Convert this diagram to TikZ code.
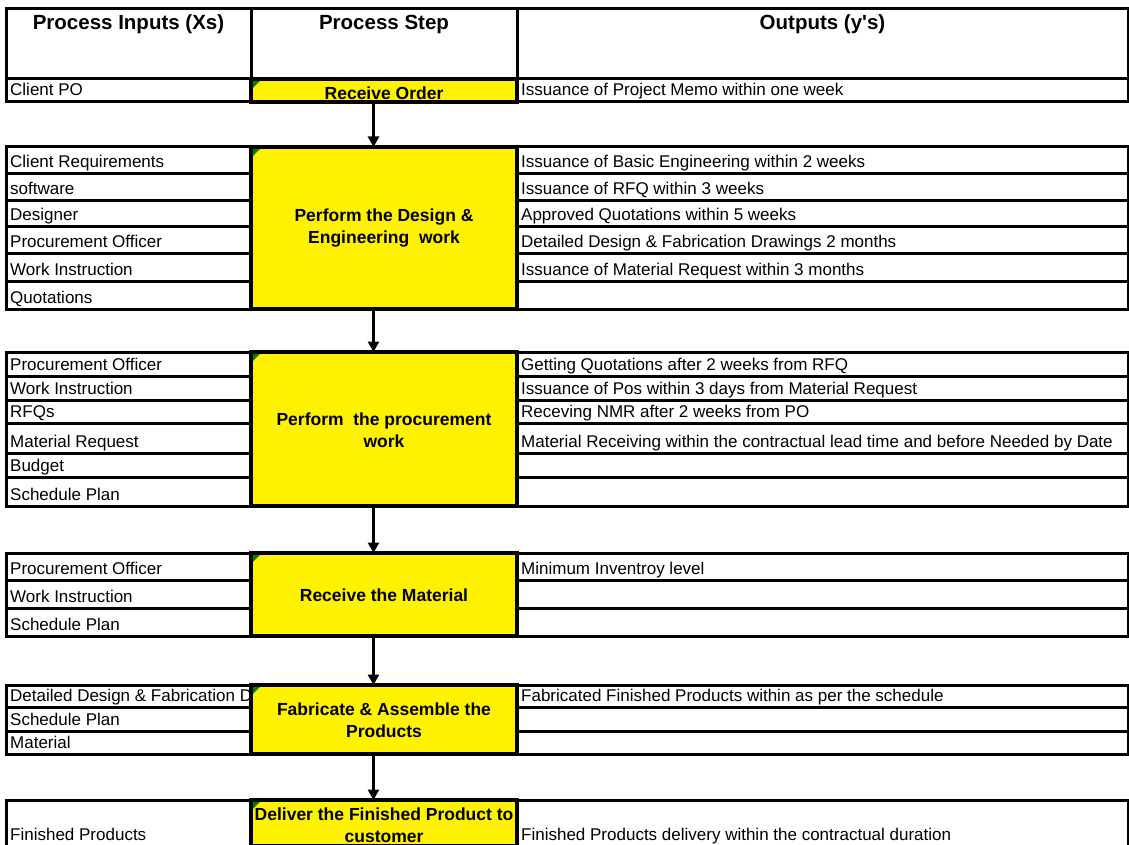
\documentclass[tikz,border=0pt]{standalone}
\usepackage{fontspec}
\setmainfont{Liberation Sans}[Ligatures=TeXOff]
\usetikzlibrary{arrows.meta}

\tikzset{
  grid/.style={draw=black, line width=3pt, inner sep=0pt, outer sep=0pt,
    anchor=north west, fill=white},
  hdtext/.style={font=\fontsize{20.5}{24}\selectfont\bfseries, inner sep=0pt, anchor=base},
  celltext/.style={font=\fontsize{17}{20}\selectfont, inner sep=0pt, anchor=base west},
  stepbox/.style={draw=black, line width=3.8pt, fill=yellow, inner sep=0pt, outer sep=0pt,
    anchor=north west, minimum width=266pt},
  steptext/.style={font=\fontsize{17.5}{22}\selectfont\bfseries, align=center, inner sep=0pt},
  flow/.style={line width=3pt, -{Triangle[width=11pt,length=10.5pt]}},
  flag/.style={fill=green!50!black, draw=none},
}

% input cell: name, top, bottom, text
\newcommand\xrow[4]{%
  \node[grid, minimum width=245pt, minimum height={(#3-#2)*1pt}] (#1) at (6,#2) {};
  \if\relax\detokenize{#4}\relax\else
    \node[celltext] (#1t) at ([shift={(4,-6)}]#1.south west) {#4};
  \fi}
% output cell: name, top, bottom, text
\newcommand\yrow[4]{%
  \node[grid, minimum width=611pt, minimum height={(#3-#2)*1pt}] (#1) at (517,#2) {};
  \if\relax\detokenize{#4}\relax\else
    \node[celltext] (#1t) at ([shift={(4,-6)}]#1.south west) {#4};
  \fi}
% process step cell: name, top, bottom, text, vertical text offset
\newcommand\stepcell[5]{%
  \node[stepbox, minimum height={(#3-#2)*1pt}] (#1) at (251,#2) {};
  \fill[flag] ([shift={(1.9,1.9)}]#1.north west) -- ++(7,0) -- ++(-7,7) -- cycle;
  \node[steptext] (#1t) at ([yshift=#5]#1.center) {#4};}

\begin{document}
\begin{tikzpicture}[x=1pt, y=-1pt]
\clip (0,0) rectangle (1129,845);
\fill[white] (0,0) rectangle (1129,845);

% header row
\node[grid, minimum width=245pt, minimum height=70pt] (h1) at (6,9) {};
\node[grid, minimum width=266pt, minimum height=70pt] (h2) at (251,9) {};
\node[grid, minimum width=611pt, minimum height=70pt] (h3) at (517,9) {};
\node[hdtext] (h1t) at ([yshift=-21pt]h1.north) {Process Inputs (Xs)};
\node[hdtext] (h2t) at ([yshift=-21pt]h2.north) {Process Step};
\node[hdtext] (h3t) at ([yshift=-21pt]h3.north) {Outputs (y's)};

% block 1
\xrow{a11}{79}{102}{Client PO}
\yrow{b11}{79}{102}{Issuance of Project Memo within one week}

% block 2
\xrow{a21}{147}{174}{Client Requirements}
\xrow{a22}{174}{201}{software}
\xrow{a23}{201}{226}{Designer}
\xrow{a24}{226}{253}{Procurement Officer}
\xrow{a25}{253}{281}{Work Instruction}
\xrow{a26}{281}{309}{Quotations}
\yrow{b21}{147}{174}{Issuance of Basic Engineering within 2 weeks}
\yrow{b22}{174}{201}{Issuance of RFQ within 3 weeks}
\yrow{b23}{201}{226}{Approved Quotations within 5 weeks}
\yrow{b24}{226}{253}{Detailed Design \& Fabrication Drawings 2 months}
\yrow{b25}{253}{281}{Issuance of Material Request within 3 months}
\yrow{b26}{281}{309}{}

% block 3
\xrow{a31}{352}{376}{Procurement Officer}
\xrow{a32}{376}{400}{Work Instruction}
\xrow{a33}{400}{423}{RFQs}
\xrow{a34}{423}{453}{Material Request}
\xrow{a35}{453}{477}{Budget}
\xrow{a36}{477}{506}{Schedule Plan}
\yrow{b31}{352}{376}{Getting Quotations after 2 weeks from RFQ}
\yrow{b32}{376}{400}{Issuance of Pos within 3 days from Material Request}
\yrow{b33}{400}{423}{Receving NMR after 2 weeks from PO}
\yrow{b34}{423}{453}{Material Receiving within the contractual lead time and before Needed by Date}
\yrow{b35}{453}{477}{}
\yrow{b36}{477}{506}{}

% block 4
\xrow{a41}{553}{580}{Procurement Officer}
\xrow{a42}{580}{608}{Work Instruction}
\xrow{a43}{608}{636}{Schedule Plan}
\yrow{b41}{553}{580}{Minimum Inventroy level}
\yrow{b42}{580}{608}{}
\yrow{b43}{608}{636}{}

% block 5
\xrow{a51}{685}{707}{Detailed Design \& Fabrication D}
\xrow{a52}{707}{731}{Schedule Plan}
\xrow{a53}{731}{754}{Material}
\yrow{b51}{685}{707}{Fabricated Finished Products within as per the schedule}
\yrow{b52}{707}{731}{}
\yrow{b53}{731}{754}{}

% block 6
\xrow{a61}{800}{846}{Finished Products}
\yrow{b61}{800}{846}{Finished Products delivery within the contractual duration}

% process steps
\stepcell{s1}{79}{102}{Receive Order}{-2.5pt}
\stepcell{s2}{147}{309}{Perform the Design \&\\Engineering\ \ work}{0pt}
\stepcell{s3}{352}{506}{Perform\ \ the procurement\\work}{-1pt}
\stepcell{s4}{553}{636}{Receive the Material}{-1pt}
\stepcell{s5}{685}{754}{Fabricate \& Assemble the\\Products}{-0.5pt}
\stepcell{s6}{800}{846}{Deliver the Finished Product to\\customer}{-2pt}

% flow arrows
\coordinate (ax) at (373.5,0);
\draw[flow] (ax |- s1.south) -- (ax |- s2.north);
\draw[flow] (ax |- s2.south) -- (ax |- s3.north);
\draw[flow] (ax |- s3.south) -- (ax |- s4.north);
\draw[flow] (ax |- s4.south) -- (ax |- s5.north);
\draw[flow] (ax |- s5.south) -- (ax |- s6.north);
\end{tikzpicture}
\end{document}
